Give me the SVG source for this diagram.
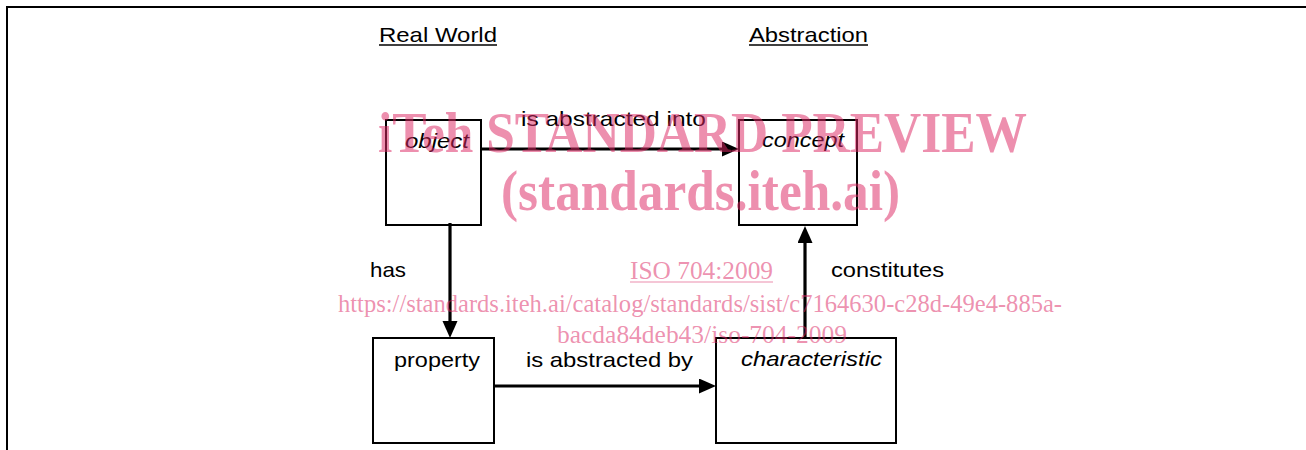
<svg xmlns="http://www.w3.org/2000/svg" width="1306" height="450" viewBox="0 0 1306 450">
<style>
.box{fill:none;stroke:#000;stroke-width:2}
.conn{stroke:#000;stroke-width:3.2;fill:none}
.t{font-family:"Liberation Sans",Arial,sans-serif;font-size:21px;fill:#000}
.i{font-style:italic}
.ul{stroke:#000;stroke-width:1.5}
.wm{font-family:"Liberation Serif","Times New Roman",serif;fill:#dc2864;fill-opacity:0.52}
.wmb{font-weight:bold;font-size:57px}
.wmr{font-size:26px}
</style>
<defs>
<marker id="ah" markerUnits="userSpaceOnUse" markerWidth="18" markerHeight="16" refX="0" refY="7.5" orient="auto" viewBox="0 0 18 16">
<path d="M0,0 L17,7.5 L0,15 Z" fill="#000"/>
</marker>
</defs>
<rect width="1306" height="450" fill="#fff"/>
<path d="M7,450 V7 H1306" fill="none" stroke="#000" stroke-width="2"/>
<g id="headers">
<text class="t" x="379" y="42" textLength="118" lengthAdjust="spacingAndGlyphs">Real World</text>
<line class="ul" x1="379" y1="45" x2="497" y2="45"/>
<text class="t" x="749" y="42" textLength="119" lengthAdjust="spacingAndGlyphs">Abstraction</text>
<line class="ul" x1="749" y1="45" x2="868" y2="45"/>
</g>
<g id="node-object">
<rect class="box" x="386" y="120" width="95" height="105"/>
<text class="t i" x="405" y="148" textLength="64" lengthAdjust="spacingAndGlyphs">object</text>
</g>
<g id="node-concept">
<rect class="box" x="739" y="120" width="118" height="105"/>
<text class="t i" x="762" y="147" textLength="82" lengthAdjust="spacingAndGlyphs">concept</text>
</g>
<g id="node-property">
<rect class="box" x="373" y="338" width="121" height="105"/>
<text class="t" x="394" y="367" textLength="86" lengthAdjust="spacingAndGlyphs">property</text>
</g>
<g id="node-characteristic">
<rect class="box" x="716" y="338" width="180" height="105"/>
<text class="t i" x="741" y="366" textLength="141" lengthAdjust="spacingAndGlyphs">characteristic</text>
</g>
<g id="connectors">
<line class="conn" x1="481" y1="149" x2="722" y2="149" marker-end="url(#ah)"/>
<line class="conn" x1="450" y1="223" x2="450" y2="321" marker-end="url(#ah)"/>
<line class="conn" x1="805" y1="338" x2="805" y2="243" marker-end="url(#ah)"/>
<line class="conn" x1="494" y1="386" x2="699" y2="386" marker-end="url(#ah)"/>
<text class="t" x="521" y="126" textLength="185" lengthAdjust="spacingAndGlyphs">is abstracted into</text>
<text class="t" x="370" y="277" textLength="36" lengthAdjust="spacingAndGlyphs">has</text>
<text class="t" x="831" y="277" textLength="113" lengthAdjust="spacingAndGlyphs">constitutes</text>
<text class="t" x="526" y="367" textLength="167" lengthAdjust="spacingAndGlyphs">is abstracted by</text>
</g>
<g id="watermark">
<text class="wm wmb" x="378" y="152" textLength="649" lengthAdjust="spacingAndGlyphs">iTeh STANDARD PREVIEW</text>
<text class="wm wmb" x="501" y="210" textLength="399" lengthAdjust="spacingAndGlyphs">(standards.iteh.ai)</text>
<text class="wm" x="630" y="279" font-size="25" textLength="143" lengthAdjust="spacingAndGlyphs">ISO 704:2009</text>
<line x1="630" y1="282" x2="773" y2="282" stroke="#dc2864" stroke-opacity="0.52" stroke-width="1.2"/>
<text class="wm wmr" x="338" y="312" textLength="724" lengthAdjust="spacingAndGlyphs">https://standards.iteh.ai/catalog/standards/sist/c7164630-c28d-49e4-885a-</text>
<text class="wm wmr" x="557" y="343" textLength="290" lengthAdjust="spacingAndGlyphs">bacda84deb43/iso-704-2009</text>
</g>
</svg>
